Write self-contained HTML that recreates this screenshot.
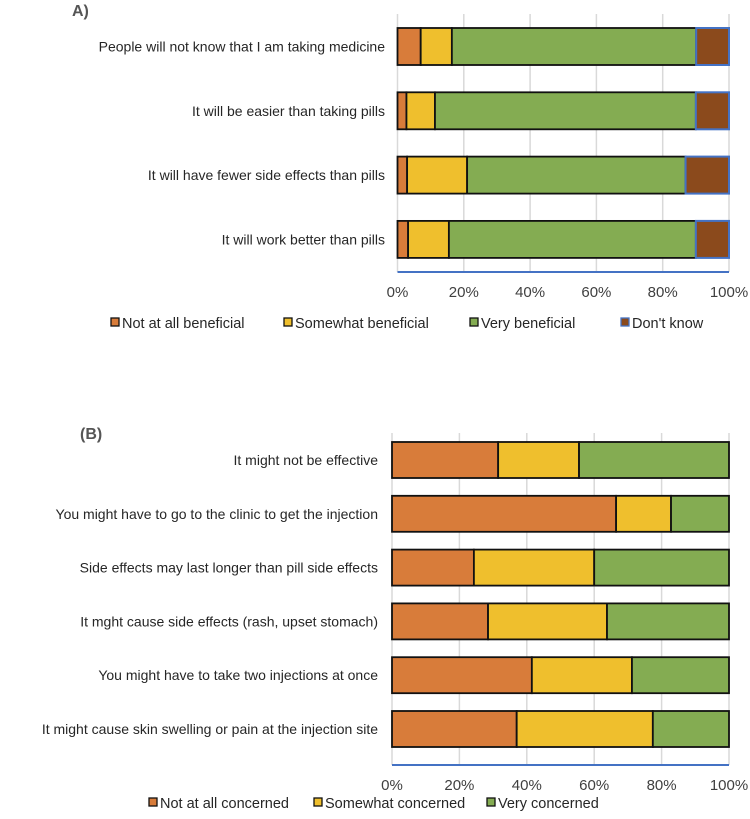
<!DOCTYPE html>
<html><head><meta charset="utf-8"><style>
html,body{margin:0;padding:0;background:#fff}
svg text{font-family:"Liberation Sans",sans-serif}
</style></head><body>
<svg id="c" width="750" height="814" xmlns="http://www.w3.org/2000/svg">
<text x="72" y="16" font-size="16" font-weight="bold" fill="#555">A)</text>
<text x="80" y="439" font-size="16" font-weight="bold" fill="#555">(B)</text>
<g id="ga"></g>
<g id="gb"></g>
</svg>
<script>
const catsA=["People will not know that I am taking medicine","It will be easier than taking pills","It will have fewer side effects than pills","It will work better than pills"];
const notA=[7,2.7,2.9,3.2];
const someA=[9.4,8.6,18.1,12.3];
const veryA=[73.7,78.7,65.9,74.5];
const dkA=[9.9,10,13.1,10];
const seriesNamesA=["Not at all beneficial","Somewhat beneficial","Very beneficial","Don't know"];
const catsB=["It might not be effective","You might have to go to the clinic to get the injection","Side effects may last longer than pill side effects","It mght cause side effects (rash, upset stomach)","You might have to take two injections at once","It might cause skin swelling or pain at the injection site"];
const notB=[31.5,66.5,24.3,28.5,41.5,37];
const someB=[24,16.3,35.7,35.3,29.7,40.4];
const veryB=[44.5,17.2,40,36.2,28.8,22.6];
const seriesNamesB=["Not at all concerned","Somewhat concerned","Very concerned"];
const ticks=["0%","20%","40%","60%","80%","100%"];
const tickVals=[0,20,40,60,80,100];
const colors=["#D87C3A","#EFBF2D","#84AC52","#8B4A1C"];
const NS="http://www.w3.org/2000/svg";
function mk(p,t,a){const e=document.createElementNS(NS,t);for(const k in a)e.setAttribute(k,a[k]);p.appendChild(e);return e;}
function draw(g,cfg){
  const x=v=>cfg.x0+(cfg.x1-cfg.x0)*v/100;
  const y=i=>cfg.yc0+cfg.step*i;
  tickVals.forEach((t,i)=>{
    const l=mk(g,'line',{x1:x(t),x2:x(t),y1:cfg.gt,y2:cfg.ax,stroke:'#d9d9d9','stroke-width':1.5});
    
    
    const tx=mk(g,'text',{x:x(t),y:cfg.ax+25,'font-size':15,fill:'#404040','text-anchor':'middle'});
    tx.textContent=ticks[i];
    
    
  });
  cfg.cats.forEach((c,i)=>{
    const t=mk(g,'text',{x:cfg.lx,y:y(i)+5,'font-size':14,fill:'#262626','text-anchor':'end'});
    t.textContent=c;
    
    
    let acc=0;
    cfg.series.forEach((s,k)=>{
      const v=s[i];
      const r=mk(g,'rect',{x:x(acc),y:y(i)-cfg.h/2,width:x(acc+v)-x(acc),height:cfg.h,fill:colors[k],stroke:k==3?'#4472C4':'#111','stroke-width':k==3?2:1.8});
      
      
      acc+=v;
    });
  });
  const a=mk(g,'line',{x1:cfg.x0,x2:cfg.x1,y1:cfg.ax,y2:cfg.ax,stroke:'#4472C4','stroke-width':2});
  
  
  cfg.names.forEach((n,k)=>{
    const sq=mk(g,'rect',{x:cfg.legX[k],y:cfg.ly-10,width:8,height:8,fill:colors[k],stroke:k==3?'#4472C4':'#111','stroke-width':1.3});
    
    
    const t=mk(g,'text',{x:cfg.legX[k]+11,y:cfg.ly,'font-size':14.5,fill:'#262626'});
    t.textContent=n;
    
    
  });
}
draw(document.getElementById('ga'),{x0:397.5,x1:729,yc0:46.5,step:64.3,h:37,gt:14,ax:272,lx:385,cats:catsA,series:[notA,someA,veryA,dkA],names:seriesNamesA,legX:[111,284,470,621],ly:328});
draw(document.getElementById('gb'),{x0:392,x1:729,yc0:460,step:53.8,h:36,gt:433,ax:765,lx:378,cats:catsB,series:[notB,someB,veryB],names:seriesNamesB,legX:[149,314,487],ly:808});
</script>
</body></html>
